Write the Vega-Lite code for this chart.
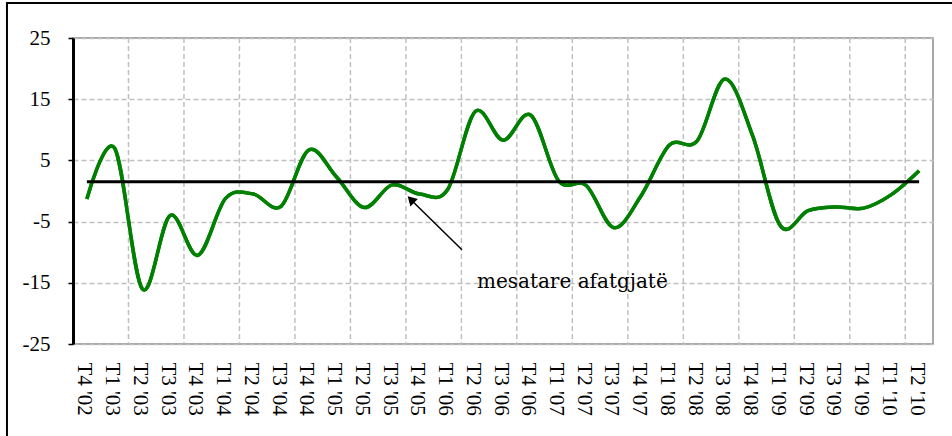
{
  "$schema": "https://vega.github.io/schema/vega-lite/v6.json",
  "width": 860,
  "height": 306,
  "autosize": {"type": "none"},
  "padding": {"left": 73, "top": 38, "right": 19, "bottom": 92},
  "background": "white",
  "config": {
    "font": "Times New Roman",
    "view": {"stroke": "#8c8c8c", "strokeWidth": 1.5},
    "axis": {"labelFont": "Times New Roman"},
    "axisX": {"labelOverlap": false, "labelBound": false, "labelFlush": false}
  },
  "datasets": {
    "series": [
      {"i": 0, "q": "T4 '02", "v": -1.3},
      {"i": 1, "q": "T1 '03", "v": 7.0},
      {"i": 2, "q": "T2 '03", "v": -16.0},
      {"i": 3, "q": "T3 '03", "v": -4.0},
      {"i": 4, "q": "T4 '03", "v": -10.5},
      {"i": 5, "q": "T1 '04", "v": -1.2},
      {"i": 6, "q": "T2 '04", "v": -0.5},
      {"i": 7, "q": "T3 '04", "v": -2.5},
      {"i": 8, "q": "T4 '04", "v": 6.7},
      {"i": 9, "q": "T1 '05", "v": 2.3},
      {"i": 10, "q": "T2 '05", "v": -2.7},
      {"i": 11, "q": "T3 '05", "v": 1.0},
      {"i": 12, "q": "T4 '05", "v": -0.5},
      {"i": 13, "q": "T1 '06", "v": 0.2},
      {"i": 14, "q": "T2 '06", "v": 13.0},
      {"i": 15, "q": "T3 '06", "v": 8.3},
      {"i": 16, "q": "T4 '06", "v": 12.4},
      {"i": 17, "q": "T1 '07", "v": 1.7},
      {"i": 18, "q": "T2 '07", "v": 0.9},
      {"i": 19, "q": "T3 '07", "v": -6.0},
      {"i": 20, "q": "T4 '07", "v": -0.6},
      {"i": 21, "q": "T1 '08", "v": 7.5},
      {"i": 22, "q": "T2 '08", "v": 8.2},
      {"i": 23, "q": "T3 '08", "v": 18.3},
      {"i": 24, "q": "T4 '08", "v": 9.0},
      {"i": 25, "q": "T1 '09", "v": -5.7},
      {"i": 26, "q": "T2 '09", "v": -3.2},
      {"i": 27, "q": "T3 '09", "v": -2.6},
      {"i": 28, "q": "T4 '09", "v": -2.8},
      {"i": 29, "q": "T1 '10", "v": -0.6},
      {"i": 30, "q": "T2 '10", "v": 3.3}
    ],
    "mean": [
      {"label": "mesatare afatgjatë", "mean": 1.5, "from": 0, "to": 30}
    ]
  },
  "layer": [
    {
      "data": {"name": "series"},
      "mark": {"type": "line", "interpolate": "cardinal", "color": "#008000", "strokeWidth": 3.5},
      "encoding": {
        "x": {
          "field": "i",
          "type": "quantitative",
          "scale": {"domain": [-0.5, 30.5], "nice": false, "zero": false},
          "axis": {
            "title": null,
            "values": [0,1,2,3,4,5,6,7,8,9,10,11,12,13,14,15,16,17,18,19,20,21,22,23,24,25,26,27,28,29,30],
            "tickCount": 40,
            "labelExpr": "[\"T4 '02\",\"T1 '03\",\"T2 '03\",\"T3 '03\",\"T4 '03\",\"T1 '04\",\"T2 '04\",\"T3 '04\",\"T4 '04\",\"T1 '05\",\"T2 '05\",\"T3 '05\",\"T4 '05\",\"T1 '06\",\"T2 '06\",\"T3 '06\",\"T4 '06\",\"T1 '07\",\"T2 '07\",\"T3 '07\",\"T4 '07\",\"T1 '08\",\"T2 '08\",\"T3 '08\",\"T4 '08\",\"T1 '09\",\"T2 '09\",\"T3 '09\",\"T4 '09\",\"T1 '10\",\"T2 '10\"][datum.value]",
            "labelAngle": 90,
            "labelAlign": "left",
            "labelBaseline": "middle",
            "labelPadding": 18,
            "labelOffset": -3,
            "labelFontSize": 21,
            "labelColor": "black",
            "labelOverlap": false,
            "labelBound": false,
            "ticks": false,
            "domain": false,
            "grid": false
          }
        },
        "y": {
          "field": "v",
          "type": "quantitative",
          "scale": {"domain": [-25, 25], "nice": false, "zero": false},
          "axis": {
            "title": null,
            "values": [-25, -15, -5, 5, 15, 25],
            "labelExpr": "toString(datum.value)",
            "labelFontSize": 21,
            "labelColor": "black",
            "labelPadding": 18,
            "tickSize": 5,
            "tickColor": "black",
            "tickWidth": 1.5,
            "domainColor": "black",
            "domainWidth": 3,
            "grid": true,
            "gridDash": [5, 3],
            "gridColor": "#c0c0c0",
            "gridWidth": 1.5
          }
        }
      }
    },
    {
      "data": {"name": "series"},
      "transform": [
        {"filter": "datum.i % 2 == 1"},
        {"calculate": "datum.i + 0.5", "as": "b"}
      ],
      "mark": {"type": "rule", "color": "#c0c0c0", "strokeWidth": 1.5, "strokeDash": [5, 3]},
      "encoding": {
        "x": {"field": "b", "type": "quantitative"}
      }
    },
    {
      "data": {"name": "series"},
      "mark": {"type": "line", "interpolate": "cardinal", "color": "#008000", "strokeWidth": 3.5},
      "encoding": {
        "x": {"field": "i", "type": "quantitative"},
        "y": {"field": "v", "type": "quantitative"}
      }
    },
    {
      "data": {"name": "mean"},
      "mark": {"type": "rule", "color": "black", "strokeWidth": 3},
      "encoding": {
        "x": {"field": "from", "type": "quantitative"},
        "x2": {"field": "to"},
        "y": {"field": "mean", "type": "quantitative"}
      }
    },
    {
      "data": {"name": "mean"},
      "mark": {"type": "rule", "color": "black", "strokeWidth": 1.5},
      "encoding": {
        "x": {"datum": 13.52, "type": "quantitative"},
        "x2": {"datum": 11.7},
        "y": {"datum": -9.6, "type": "quantitative"},
        "y2": {"datum": -1.5}
      }
    },
    {
      "data": {"name": "mean"},
      "mark": {"type": "point", "shape": "triangle-up", "filled": true, "color": "black", "size": 110, "angle": -45, "opacity": 1},
      "encoding": {
        "x": {"datum": 11.68, "type": "quantitative"},
        "y": {"datum": -1.4, "type": "quantitative"}
      }
    },
    {
      "data": {"name": "mean"},
      "mark": {"type": "text", "align": "left", "baseline": "alphabetic", "fontSize": 20, "font": "DejaVu Serif", "color": "black"},
      "encoding": {
        "x": {"datum": 14.06, "type": "quantitative"},
        "y": {"datum": -15.85, "type": "quantitative"},
        "text": {"field": "label"}
      }
    },
    {
      "data": {"name": "mean"},
      "mark": {"type": "rect", "fill": null, "fillOpacity": 0, "stroke": "black", "strokeWidth": 2, "clip": false},
      "encoding": {
        "x": {"datum": -2.88, "type": "quantitative"},
        "x2": {"datum": 32},
        "y": {"datum": 30.7, "type": "quantitative"},
        "y2": {"datum": -45}
      }
    }
  ]
}
